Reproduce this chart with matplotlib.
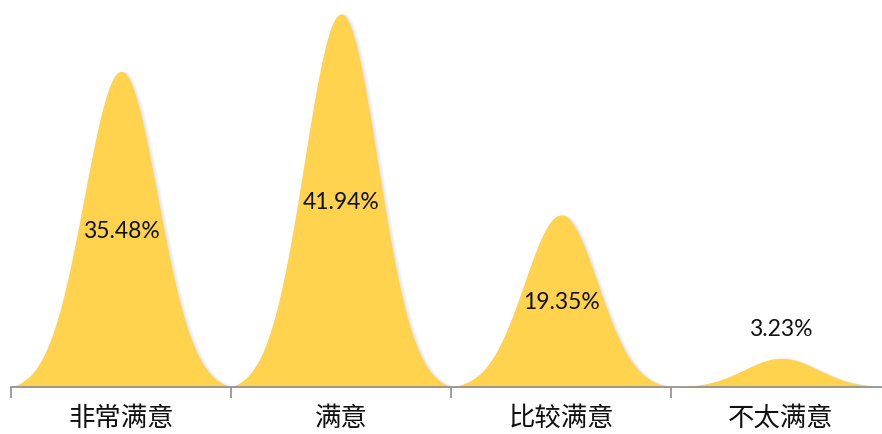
import numpy as np
import matplotlib
matplotlib.use("Agg")
import matplotlib.pyplot as plt

plt.rcParams['font.family'] = ['Noto Sans CJK SC', 'DejaVu Sans']

categories = ['非常满意', '满意', '比较满意', '不太满意']
values = [35.48, 41.94, 19.35, 3.23]
labels = ['35.48%', '41.94%', '19.35%', '3.23%']

W, H = 882, 434
fig = plt.figure(figsize=(W / 100, H / 100), dpi=100)
ax_left = 11 / W
ax_width = 880 / W
ax_bottom = (H - 387) / H
ax_height = 387 / H
ax = fig.add_axes([ax_left, ax_bottom, ax_width, ax_height])

ymax = 387 / (373 / 41.94)
ax.set_xlim(-0.5, len(categories) - 0.5)
ax.set_ylim(0, ymax)

sigma = 0.167
fill_color = '#FFD34E'
shadow_color = '#C9D6EA'

for i, v in enumerate(values):
    t = np.linspace(-0.5, 0.5, 400)
    g = np.exp(-t ** 2 / (2 * sigma ** 2))
    g0 = np.exp(-0.5 ** 2 / (2 * sigma ** 2))
    g = (g - g0) / (1 - g0)
    y = v * g
    # soft shadow
    for k, a in [(3, 0.15), (2, 0.25), (1, 0.35)]:
        ax.fill_between(i + t + 0.006 * k, 0, y, color=shadow_color, alpha=a,
                        linewidth=0, zorder=1)
    ax.fill_between(i + t, 0, y, color=fill_color, linewidth=0, zorder=2)
    if v > 10:
        ax.text(i, v / 2 - 0.2, labels[i], ha='center', va='center', fontsize=16.5,
                family=['Lato', 'DejaVu Sans'], color='#111111', zorder=3)
    else:
        ax.text(i, v + 3.2, labels[i], ha='center', va='center', fontsize=16.5,
                family=['Lato', 'DejaVu Sans'], color='#111111', zorder=3)

for s in ['top', 'right', 'left']:
    ax.spines[s].set_visible(False)
ax.spines['bottom'].set_color('#8C8C8C')
ax.spines['bottom'].set_linewidth(1.2)
ax.spines['bottom'].set_zorder(4)
ax.set_yticks([])

ax.set_xticks(np.arange(len(categories) + 1) - 0.5)
ax.set_xticklabels([])
ax.tick_params(axis='x', direction='out', length=8, width=1.2, color='#8C8C8C')
ax.set_xticks(np.arange(len(categories)), minor=True)
ax.set_xticklabels(categories, minor=True, fontsize=19, color='#111111')
ax.tick_params(axis='x', which='minor', length=0, pad=13)

fig.savefig('out.png', dpi=100, facecolor='white')
